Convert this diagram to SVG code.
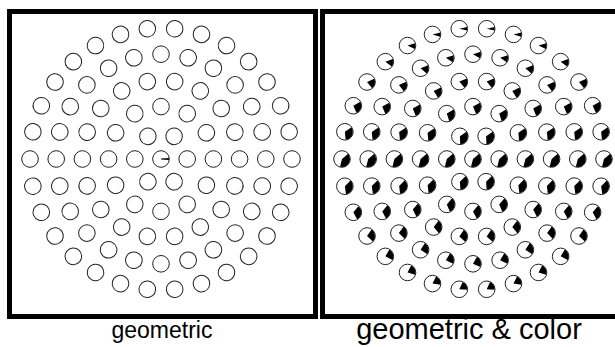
<svg xmlns="http://www.w3.org/2000/svg" xmlns:xlink="http://www.w3.org/1999/xlink" width="615" height="347" viewBox="0 0 615 347">
<style>
.o{fill:none;stroke:#222;stroke-width:1}
.panel{fill:#fff;stroke:#000;stroke-width:5}
.lbl{font-family:"Liberation Sans",Arial,sans-serif;font-size:23px;fill:#000;text-anchor:middle}
.lbl2{font-size:29px}
</style>
<defs>
<circle id="o" r="8.3" class="o"/>
<circle id="w" r="57.3" fill="none" stroke="#000" stroke-width="114.6"/>
</defs>
<rect width="615" height="347" fill="#fff"/>
<g id="panel-geometric">
<rect class="panel" x="9.5" y="11.5" width="306" height="305"/>
<g id="circles-geometric" transform="translate(161,159)">
<g id="g-center"><use href="#w" transform="rotate(-8) scale(.07)" stroke-dasharray="16 400"/><line x1="0" y1="0" x2="7" y2="0" stroke="#000" stroke-width="1"/><use href="#o"/></g>
<use href="#o" transform="rotate(0) translate(26.2)"/><use href="#o" transform="rotate(60) translate(26.2)"/><use href="#o" transform="rotate(120) translate(26.2)"/><use href="#o" transform="rotate(180) translate(26.2)"/><use href="#o" transform="rotate(240) translate(26.2)"/><use href="#o" transform="rotate(300) translate(26.2)"/>
<use href="#o" transform="rotate(0) translate(52.4)"/><use href="#o" transform="rotate(30) translate(52.4)"/><use href="#o" transform="rotate(60) translate(52.4)"/><use href="#o" transform="rotate(90) translate(52.4)"/><use href="#o" transform="rotate(120) translate(52.4)"/><use href="#o" transform="rotate(150) translate(52.4)"/><use href="#o" transform="rotate(180) translate(52.4)"/><use href="#o" transform="rotate(210) translate(52.4)"/><use href="#o" transform="rotate(240) translate(52.4)"/><use href="#o" transform="rotate(270) translate(52.4)"/><use href="#o" transform="rotate(300) translate(52.4)"/><use href="#o" transform="rotate(330) translate(52.4)"/>
<use href="#o" transform="rotate(0) translate(78.6)"/><use href="#o" transform="rotate(20) translate(78.6)"/><use href="#o" transform="rotate(40) translate(78.6)"/><use href="#o" transform="rotate(60) translate(78.6)"/><use href="#o" transform="rotate(80) translate(78.6)"/><use href="#o" transform="rotate(100) translate(78.6)"/><use href="#o" transform="rotate(120) translate(78.6)"/><use href="#o" transform="rotate(140) translate(78.6)"/><use href="#o" transform="rotate(160) translate(78.6)"/><use href="#o" transform="rotate(180) translate(78.6)"/><use href="#o" transform="rotate(200) translate(78.6)"/><use href="#o" transform="rotate(220) translate(78.6)"/><use href="#o" transform="rotate(240) translate(78.6)"/><use href="#o" transform="rotate(260) translate(78.6)"/><use href="#o" transform="rotate(280) translate(78.6)"/><use href="#o" transform="rotate(300) translate(78.6)"/><use href="#o" transform="rotate(320) translate(78.6)"/><use href="#o" transform="rotate(340) translate(78.6)"/>
<use href="#o" transform="rotate(0) translate(104.8)"/><use href="#o" transform="rotate(15) translate(104.8)"/><use href="#o" transform="rotate(30) translate(104.8)"/><use href="#o" transform="rotate(45) translate(104.8)"/><use href="#o" transform="rotate(60) translate(104.8)"/><use href="#o" transform="rotate(75) translate(104.8)"/><use href="#o" transform="rotate(90) translate(104.8)"/><use href="#o" transform="rotate(105) translate(104.8)"/><use href="#o" transform="rotate(120) translate(104.8)"/><use href="#o" transform="rotate(135) translate(104.8)"/><use href="#o" transform="rotate(150) translate(104.8)"/><use href="#o" transform="rotate(165) translate(104.8)"/><use href="#o" transform="rotate(180) translate(104.8)"/><use href="#o" transform="rotate(195) translate(104.8)"/><use href="#o" transform="rotate(210) translate(104.8)"/><use href="#o" transform="rotate(225) translate(104.8)"/><use href="#o" transform="rotate(240) translate(104.8)"/><use href="#o" transform="rotate(255) translate(104.8)"/><use href="#o" transform="rotate(270) translate(104.8)"/><use href="#o" transform="rotate(285) translate(104.8)"/><use href="#o" transform="rotate(300) translate(104.8)"/><use href="#o" transform="rotate(315) translate(104.8)"/><use href="#o" transform="rotate(330) translate(104.8)"/><use href="#o" transform="rotate(345) translate(104.8)"/>
<use href="#o" transform="rotate(0) translate(131)"/><use href="#o" transform="rotate(12) translate(131)"/><use href="#o" transform="rotate(24) translate(131)"/><use href="#o" transform="rotate(36) translate(131)"/><use href="#o" transform="rotate(48) translate(131)"/><use href="#o" transform="rotate(60) translate(131)"/><use href="#o" transform="rotate(72) translate(131)"/><use href="#o" transform="rotate(84) translate(131)"/><use href="#o" transform="rotate(96) translate(131)"/><use href="#o" transform="rotate(108) translate(131)"/><use href="#o" transform="rotate(120) translate(131)"/><use href="#o" transform="rotate(132) translate(131)"/><use href="#o" transform="rotate(144) translate(131)"/><use href="#o" transform="rotate(156) translate(131)"/><use href="#o" transform="rotate(168) translate(131)"/><use href="#o" transform="rotate(180) translate(131)"/><use href="#o" transform="rotate(192) translate(131)"/><use href="#o" transform="rotate(204) translate(131)"/><use href="#o" transform="rotate(216) translate(131)"/><use href="#o" transform="rotate(228) translate(131)"/><use href="#o" transform="rotate(240) translate(131)"/><use href="#o" transform="rotate(252) translate(131)"/><use href="#o" transform="rotate(264) translate(131)"/><use href="#o" transform="rotate(276) translate(131)"/><use href="#o" transform="rotate(288) translate(131)"/><use href="#o" transform="rotate(300) translate(131)"/><use href="#o" transform="rotate(312) translate(131)"/><use href="#o" transform="rotate(324) translate(131)"/><use href="#o" transform="rotate(336) translate(131)"/><use href="#o" transform="rotate(348) translate(131)"/>
</g>
</g>
<g id="panel-color">
<rect class="panel" x="322.5" y="11.5" width="306" height="305"/>
<g id="circles-color" transform="translate(473,159)">
<g><use href="#w" transform="rotate(-40) scale(.07)" stroke-dasharray="140 400"/><use href="#o"/></g>
<g transform="rotate(0) translate(26.2) rotate(0)"><use href="#w" transform="rotate(-40) scale(.07)" stroke-dasharray="140 400"/><use href="#o"/></g>
<g transform="rotate(60) translate(26.2) rotate(-60)"><use href="#w" transform="rotate(-44) scale(.07)" stroke-dasharray="127 400"/><use href="#o"/></g>
<g transform="rotate(120) translate(26.2) rotate(-120)"><use href="#w" transform="rotate(-44) scale(.07)" stroke-dasharray="127 400"/><use href="#o"/></g>
<g transform="rotate(180) translate(26.2) rotate(-180)"><use href="#w" transform="rotate(-40) scale(.07)" stroke-dasharray="140 400"/><use href="#o"/></g>
<g transform="rotate(240) translate(26.2) rotate(-240)"><use href="#w" transform="rotate(-35) scale(.07)" stroke-dasharray="120 400"/><use href="#o"/></g>
<g transform="rotate(300) translate(26.2) rotate(-300)"><use href="#w" transform="rotate(-35) scale(.07)" stroke-dasharray="120 400"/><use href="#o"/></g>
<g transform="rotate(0) translate(52.4) rotate(0)"><use href="#w" transform="rotate(-40) scale(.07)" stroke-dasharray="140 400"/><use href="#o"/></g>
<g transform="rotate(30) translate(52.4) rotate(-30)"><use href="#w" transform="rotate(-45) scale(.07)" stroke-dasharray="125 400"/><use href="#o"/></g>
<g transform="rotate(60) translate(52.4) rotate(-60)"><use href="#w" transform="rotate(-49) scale(.07)" stroke-dasharray="114 400"/><use href="#o"/></g>
<g transform="rotate(90) translate(52.4) rotate(-90)"><use href="#w" transform="rotate(-50) scale(.07)" stroke-dasharray="110 400"/><use href="#o"/></g>
<g transform="rotate(120) translate(52.4) rotate(-120)"><use href="#w" transform="rotate(-49) scale(.07)" stroke-dasharray="114 400"/><use href="#o"/></g>
<g transform="rotate(150) translate(52.4) rotate(-150)"><use href="#w" transform="rotate(-45) scale(.07)" stroke-dasharray="125 400"/><use href="#o"/></g>
<g transform="rotate(180) translate(52.4) rotate(-180)"><use href="#w" transform="rotate(-40) scale(.07)" stroke-dasharray="140 400"/><use href="#o"/></g>
<g transform="rotate(210) translate(52.4) rotate(-210)"><use href="#w" transform="rotate(-34) scale(.07)" stroke-dasharray="117 400"/><use href="#o"/></g>
<g transform="rotate(240) translate(52.4) rotate(-240)"><use href="#w" transform="rotate(-30) scale(.07)" stroke-dasharray="100 400"/><use href="#o"/></g>
<g transform="rotate(270) translate(52.4) rotate(-270)"><use href="#w" transform="rotate(-29) scale(.07)" stroke-dasharray="94 400"/><use href="#o"/></g>
<g transform="rotate(300) translate(52.4) rotate(-300)"><use href="#w" transform="rotate(-30) scale(.07)" stroke-dasharray="100 400"/><use href="#o"/></g>
<g transform="rotate(330) translate(52.4) rotate(-330)"><use href="#w" transform="rotate(-34) scale(.07)" stroke-dasharray="117 400"/><use href="#o"/></g>
<g transform="rotate(0) translate(78.6) rotate(0)"><use href="#w" transform="rotate(-40) scale(.07)" stroke-dasharray="140 400"/><use href="#o"/></g>
<g transform="rotate(20) translate(78.6) rotate(-20)"><use href="#w" transform="rotate(-45) scale(.07)" stroke-dasharray="125 400"/><use href="#o"/></g>
<g transform="rotate(40) translate(78.6) rotate(-40)"><use href="#w" transform="rotate(-50) scale(.07)" stroke-dasharray="111 400"/><use href="#o"/></g>
<g transform="rotate(60) translate(78.6) rotate(-60)"><use href="#w" transform="rotate(-53) scale(.07)" stroke-dasharray="101 400"/><use href="#o"/></g>
<g transform="rotate(80) translate(78.6) rotate(-80)"><use href="#w" transform="rotate(-55) scale(.07)" stroke-dasharray="96 400"/><use href="#o"/></g>
<g transform="rotate(100) translate(78.6) rotate(-100)"><use href="#w" transform="rotate(-55) scale(.07)" stroke-dasharray="96 400"/><use href="#o"/></g>
<g transform="rotate(120) translate(78.6) rotate(-120)"><use href="#w" transform="rotate(-53) scale(.07)" stroke-dasharray="101 400"/><use href="#o"/></g>
<g transform="rotate(140) translate(78.6) rotate(-140)"><use href="#w" transform="rotate(-50) scale(.07)" stroke-dasharray="111 400"/><use href="#o"/></g>
<g transform="rotate(160) translate(78.6) rotate(-160)"><use href="#w" transform="rotate(-45) scale(.07)" stroke-dasharray="125 400"/><use href="#o"/></g>
<g transform="rotate(180) translate(78.6) rotate(-180)"><use href="#w" transform="rotate(-40) scale(.07)" stroke-dasharray="140 400"/><use href="#o"/></g>
<g transform="rotate(200) translate(78.6) rotate(-200)"><use href="#w" transform="rotate(-34) scale(.07)" stroke-dasharray="116 400"/><use href="#o"/></g>
<g transform="rotate(220) translate(78.6) rotate(-220)"><use href="#w" transform="rotate(-29) scale(.07)" stroke-dasharray="95 400"/><use href="#o"/></g>
<g transform="rotate(240) translate(78.6) rotate(-240)"><use href="#w" transform="rotate(-25) scale(.07)" stroke-dasharray="80 400"/><use href="#o"/></g>
<g transform="rotate(260) translate(78.6) rotate(-260)"><use href="#w" transform="rotate(-23) scale(.07)" stroke-dasharray="71 400"/><use href="#o"/></g>
<g transform="rotate(280) translate(78.6) rotate(-280)"><use href="#w" transform="rotate(-23) scale(.07)" stroke-dasharray="71 400"/><use href="#o"/></g>
<g transform="rotate(300) translate(78.6) rotate(-300)"><use href="#w" transform="rotate(-25) scale(.07)" stroke-dasharray="80 400"/><use href="#o"/></g>
<g transform="rotate(320) translate(78.6) rotate(-320)"><use href="#w" transform="rotate(-29) scale(.07)" stroke-dasharray="95 400"/><use href="#o"/></g>
<g transform="rotate(340) translate(78.6) rotate(-340)"><use href="#w" transform="rotate(-34) scale(.07)" stroke-dasharray="116 400"/><use href="#o"/></g>
<g transform="rotate(0) translate(104.8) rotate(0)"><use href="#w" transform="rotate(-40) scale(.07)" stroke-dasharray="140 400"/><use href="#o"/></g>
<g transform="rotate(15) translate(104.8) rotate(-15)"><use href="#w" transform="rotate(-45) scale(.07)" stroke-dasharray="124 400"/><use href="#o"/></g>
<g transform="rotate(30) translate(104.8) rotate(-30)"><use href="#w" transform="rotate(-50) scale(.07)" stroke-dasharray="110 400"/><use href="#o"/></g>
<g transform="rotate(45) translate(104.8) rotate(-45)"><use href="#w" transform="rotate(-54) scale(.07)" stroke-dasharray="98 400"/><use href="#o"/></g>
<g transform="rotate(60) translate(104.8) rotate(-60)"><use href="#w" transform="rotate(-57) scale(.07)" stroke-dasharray="88 400"/><use href="#o"/></g>
<g transform="rotate(75) translate(104.8) rotate(-75)"><use href="#w" transform="rotate(-59) scale(.07)" stroke-dasharray="82 400"/><use href="#o"/></g>
<g transform="rotate(90) translate(104.8) rotate(-90)"><use href="#w" transform="rotate(-60) scale(.07)" stroke-dasharray="80 400"/><use href="#o"/></g>
<g transform="rotate(105) translate(104.8) rotate(-105)"><use href="#w" transform="rotate(-59) scale(.07)" stroke-dasharray="82 400"/><use href="#o"/></g>
<g transform="rotate(120) translate(104.8) rotate(-120)"><use href="#w" transform="rotate(-57) scale(.07)" stroke-dasharray="88 400"/><use href="#o"/></g>
<g transform="rotate(135) translate(104.8) rotate(-135)"><use href="#w" transform="rotate(-54) scale(.07)" stroke-dasharray="98 400"/><use href="#o"/></g>
<g transform="rotate(150) translate(104.8) rotate(-150)"><use href="#w" transform="rotate(-50) scale(.07)" stroke-dasharray="110 400"/><use href="#o"/></g>
<g transform="rotate(165) translate(104.8) rotate(-165)"><use href="#w" transform="rotate(-45) scale(.07)" stroke-dasharray="124 400"/><use href="#o"/></g>
<g transform="rotate(180) translate(104.8) rotate(-180)"><use href="#w" transform="rotate(-40) scale(.07)" stroke-dasharray="140 400"/><use href="#o"/></g>
<g transform="rotate(195) translate(104.8) rotate(-195)"><use href="#w" transform="rotate(-34) scale(.07)" stroke-dasharray="116 400"/><use href="#o"/></g>
<g transform="rotate(210) translate(104.8) rotate(-210)"><use href="#w" transform="rotate(-29) scale(.07)" stroke-dasharray="94 400"/><use href="#o"/></g>
<g transform="rotate(225) translate(104.8) rotate(-225)"><use href="#w" transform="rotate(-24) scale(.07)" stroke-dasharray="74 400"/><use href="#o"/></g>
<g transform="rotate(240) translate(104.8) rotate(-240)"><use href="#w" transform="rotate(-21) scale(.07)" stroke-dasharray="60 400"/><use href="#o"/></g>
<g transform="rotate(255) translate(104.8) rotate(-255)"><use href="#w" transform="rotate(-18) scale(.07)" stroke-dasharray="50 400"/><use href="#o"/></g>
<g transform="rotate(270) translate(104.8) rotate(-270)"><use href="#w" transform="rotate(-18) scale(.07)" stroke-dasharray="47 400"/><use href="#o"/></g>
<g transform="rotate(285) translate(104.8) rotate(-285)"><use href="#w" transform="rotate(-18) scale(.07)" stroke-dasharray="50 400"/><use href="#o"/></g>
<g transform="rotate(300) translate(104.8) rotate(-300)"><use href="#w" transform="rotate(-21) scale(.07)" stroke-dasharray="60 400"/><use href="#o"/></g>
<g transform="rotate(315) translate(104.8) rotate(-315)"><use href="#w" transform="rotate(-24) scale(.07)" stroke-dasharray="74 400"/><use href="#o"/></g>
<g transform="rotate(330) translate(104.8) rotate(-330)"><use href="#w" transform="rotate(-29) scale(.07)" stroke-dasharray="94 400"/><use href="#o"/></g>
<g transform="rotate(345) translate(104.8) rotate(-345)"><use href="#w" transform="rotate(-34) scale(.07)" stroke-dasharray="116 400"/><use href="#o"/></g>
<g transform="rotate(0) translate(131) rotate(0)"><use href="#w" transform="rotate(-40) scale(.07)" stroke-dasharray="140 400"/><use href="#o"/></g>
<g transform="rotate(12) translate(131) rotate(-12)"><use href="#w" transform="rotate(-45) scale(.07)" stroke-dasharray="124 400"/><use href="#o"/></g>
<g transform="rotate(24) translate(131) rotate(-24)"><use href="#w" transform="rotate(-50) scale(.07)" stroke-dasharray="110 400"/><use href="#o"/></g>
<g transform="rotate(36) translate(131) rotate(-36)"><use href="#w" transform="rotate(-55) scale(.07)" stroke-dasharray="96 400"/><use href="#o"/></g>
<g transform="rotate(48) translate(131) rotate(-48)"><use href="#w" transform="rotate(-59) scale(.07)" stroke-dasharray="84 400"/><use href="#o"/></g>
<g transform="rotate(60) translate(131) rotate(-60)"><use href="#w" transform="rotate(-62) scale(.07)" stroke-dasharray="75 400"/><use href="#o"/></g>
<g transform="rotate(72) translate(131) rotate(-72)"><use href="#w" transform="rotate(-64) scale(.07)" stroke-dasharray="69 400"/><use href="#o"/></g>
<g transform="rotate(84) translate(131) rotate(-84)"><use href="#w" transform="rotate(-65) scale(.07)" stroke-dasharray="65 400"/><use href="#o"/></g>
<g transform="rotate(96) translate(131) rotate(-96)"><use href="#w" transform="rotate(-65) scale(.07)" stroke-dasharray="65 400"/><use href="#o"/></g>
<g transform="rotate(108) translate(131) rotate(-108)"><use href="#w" transform="rotate(-64) scale(.07)" stroke-dasharray="69 400"/><use href="#o"/></g>
<g transform="rotate(120) translate(131) rotate(-120)"><use href="#w" transform="rotate(-62) scale(.07)" stroke-dasharray="75 400"/><use href="#o"/></g>
<g transform="rotate(132) translate(131) rotate(-132)"><use href="#w" transform="rotate(-59) scale(.07)" stroke-dasharray="84 400"/><use href="#o"/></g>
<g transform="rotate(144) translate(131) rotate(-144)"><use href="#w" transform="rotate(-55) scale(.07)" stroke-dasharray="96 400"/><use href="#o"/></g>
<g transform="rotate(156) translate(131) rotate(-156)"><use href="#w" transform="rotate(-50) scale(.07)" stroke-dasharray="110 400"/><use href="#o"/></g>
<g transform="rotate(168) translate(131) rotate(-168)"><use href="#w" transform="rotate(-45) scale(.07)" stroke-dasharray="124 400"/><use href="#o"/></g>
<g transform="rotate(180) translate(131) rotate(-180)"><use href="#w" transform="rotate(-40) scale(.07)" stroke-dasharray="140 400"/><use href="#o"/></g>
<g transform="rotate(192) translate(131) rotate(-192)"><use href="#w" transform="rotate(-34) scale(.07)" stroke-dasharray="116 400"/><use href="#o"/></g>
<g transform="rotate(204) translate(131) rotate(-204)"><use href="#w" transform="rotate(-29) scale(.07)" stroke-dasharray="93 400"/><use href="#o"/></g>
<g transform="rotate(216) translate(131) rotate(-216)"><use href="#w" transform="rotate(-24) scale(.07)" stroke-dasharray="72 400"/><use href="#o"/></g>
<g transform="rotate(228) translate(131) rotate(-228)"><use href="#w" transform="rotate(-19) scale(.07)" stroke-dasharray="54 400"/><use href="#o"/></g>
<g transform="rotate(240) translate(131) rotate(-240)"><use href="#w" transform="rotate(-16) scale(.07)" stroke-dasharray="40 400"/><use href="#o"/></g>
<g transform="rotate(252) translate(131) rotate(-252)"><use href="#w" transform="rotate(-13) scale(.07)" stroke-dasharray="30 400"/><use href="#o"/></g>
<g transform="rotate(264) translate(131) rotate(-264)"><use href="#w" transform="rotate(-12) scale(.07)" stroke-dasharray="25 400"/><use href="#o"/></g>
<g transform="rotate(276) translate(131) rotate(-276)"><use href="#w" transform="rotate(-12) scale(.07)" stroke-dasharray="25 400"/><use href="#o"/></g>
<g transform="rotate(288) translate(131) rotate(-288)"><use href="#w" transform="rotate(-13) scale(.07)" stroke-dasharray="30 400"/><use href="#o"/></g>
<g transform="rotate(300) translate(131) rotate(-300)"><use href="#w" transform="rotate(-16) scale(.07)" stroke-dasharray="40 400"/><use href="#o"/></g>
<g transform="rotate(312) translate(131) rotate(-312)"><use href="#w" transform="rotate(-19) scale(.07)" stroke-dasharray="54 400"/><use href="#o"/></g>
<g transform="rotate(324) translate(131) rotate(-324)"><use href="#w" transform="rotate(-24) scale(.07)" stroke-dasharray="72 400"/><use href="#o"/></g>
<g transform="rotate(336) translate(131) rotate(-336)"><use href="#w" transform="rotate(-29) scale(.07)" stroke-dasharray="93 400"/><use href="#o"/></g>
<g transform="rotate(348) translate(131) rotate(-348)"><use href="#w" transform="rotate(-34) scale(.07)" stroke-dasharray="116 400"/><use href="#o"/></g>
</g>
</g>
<g id="labels">
<text class="lbl" x="162" y="338">geometric</text>
<text class="lbl lbl2" x="469" y="339">geometric &amp; color</text>
</g>
</svg>
